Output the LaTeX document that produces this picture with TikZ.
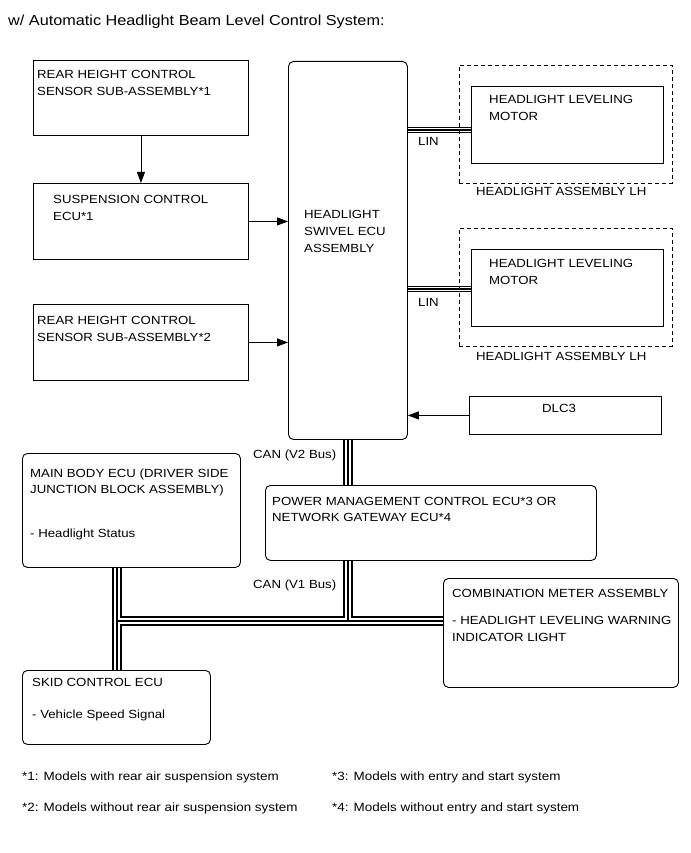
\documentclass[tikz,border=0pt]{standalone}
\usepackage{fontspec}
\setmainfont[FakeStretch=1.12]{Liberation Sans}
\usetikzlibrary{arrows.meta,calc}
\pgfdeclarelayer{bg}
\pgfsetlayers{bg,main}
\begin{document}
\begin{tikzpicture}[x=1pt,y=-1pt,
  box/.style={draw, line width=0.9pt, inner sep=0pt, anchor=north west},
  rbox/.style={box, rounded corners=5pt},
  dbox/.style={box, dash pattern=on 4pt off 3pt},
  txt/.style={anchor=base west, inner sep=0pt, font=\fontsize{11.8}{14}\selectfont},
  note/.style={anchor=base west, inner sep=0pt, font=\fontsize{12}{14}\selectfont},
  arr/.style={line width=0.9pt, -{Triangle[length=11pt,width=8pt]}}
]
\useasboundingbox (0,0) rectangle (690,853);

\node[anchor=base west, inner sep=0pt, font=\fontsize{14.5}{17}\selectfont] (title) at (8,26) {w/ Automatic Headlight Beam Level Control System:};

% boxes
\node[box, minimum width=215pt, minimum height=75pt] (rear1) at (33,60) {};
\node[box, minimum width=215pt, minimum height=76pt] (susp) at (33,183) {};
\node[box, minimum width=215pt, minimum height=76pt] (rear2) at (33,304) {};
\node[rbox, minimum width=119pt, minimum height=378pt] (swivel) at (288,61) {};
\node[dbox, minimum width=213pt, minimum height=118pt] (lh1) at (459,65) {};
\node[box, minimum width=192pt, minimum height=77pt] (mot1) at (471,86) {};
\node[dbox, minimum width=213pt, minimum height=118pt] (lh2) at (459,228) {};
\node[box, minimum width=192pt, minimum height=77pt] (mot2) at (471,249) {};
\node[box, minimum width=192pt, minimum height=38pt] (dlc) at (469,396) {};
\node[rbox, minimum width=218pt, minimum height=114pt] (main) at (22,453) {};
\node[rbox, minimum width=331pt, minimum height=75pt] (pm) at (265,485) {};
\node[rbox, minimum width=235pt, minimum height=109pt] (combo) at (443,578) {};
\node[rbox, minimum width=188pt, minimum height=74pt] (skid) at (22,670) {};

% texts
\node[txt] (t1a) at (37,79) {REAR HEIGHT CONTROL};
\node[txt] (t1b) at (37,96) {SENSOR SUB-ASSEMBLY*1};
\node[txt] (t2a) at (53,203) {SUSPENSION CONTROL};
\node[txt] (t2b) at (53,220) {ECU*1};
\node[txt] (t3a) at (37,324) {REAR HEIGHT CONTROL};
\node[txt] (t3b) at (37,341) {SENSOR SUB-ASSEMBLY*2};
\node[txt] (t4a) at (304,218) {HEADLIGHT};
\node[txt] (t4b) at (304,235) {SWIVEL ECU};
\node[txt] (t4c) at (304,252) {ASSEMBLY};
\node[txt] (t5a) at (489,104) {HEADLIGHT LEVELING};
\node[txt] (t5b) at (489,121) {MOTOR};
\node[txt] (t5c) at (476,196) {HEADLIGHT ASSEMBLY LH};
\node[txt] (t6a) at (489,267) {HEADLIGHT LEVELING};
\node[txt] (t6b) at (489,284) {MOTOR};
\node[txt] (t6c) at (476,360) {HEADLIGHT ASSEMBLY LH};
\node[txt] (lin1) at (418,146) {LIN};
\node[txt] (lin2) at (418,306) {LIN};
\node[txt, anchor=base] (t7) at (559,412) {DLC3};
\node[txt] (canv2) at (253,458) {CAN (V2 Bus)};
\node[txt] (canv1) at (253,588) {CAN (V1 Bus)};
\node[txt] (t8a) at (30,477) {MAIN BODY ECU (DRIVER SIDE};
\node[txt] (t8b) at (30,493) {JUNCTION BLOCK ASSEMBLY)};
\node[txt] (t8c) at (30,537) {- Headlight Status};
\node[txt] (t9a) at (272,505) {POWER MANAGEMENT CONTROL ECU*3 OR};
\node[txt] (t9b) at (272,521) {NETWORK GATEWAY ECU*4};
\node[txt] (t10a) at (452,597) {COMBINATION METER ASSEMBLY};
\node[txt] (t10b) at (452,624) {- HEADLIGHT LEVELING WARNING};
\node[txt] (t10c) at (452,641) {INDICATOR LIGHT};
\node[txt] (t11a) at (32,686) {SKID CONTROL ECU};
\node[txt] (t11b) at (32,718) {- Vehicle Speed Signal};

\node[note] (n1) at (22,780) {*1: Models with rear air suspension system};
\node[note] (n2) at (22,811) {*2: Models without rear air suspension system};
\node[note] (n3) at (332,780) {*3: Models with entry and start system};
\node[note] (n4) at (332,811) {*4: Models without entry and start system};

% arrows
\draw[arr] (rear1.south) -- (susp.north);
\draw[arr] (susp.east) -- (susp.east -| swivel.west);
\draw[arr] (rear2.east) -- (rear2.east -| swivel.west);
\draw[arr] (dlc.west) -- (dlc.west -| swivel.east);

% buses
\coordinate (ly1) at (0,130);
\coordinate (ly2) at (0,289);
\coordinate (cx) at (117,0);
\coordinate (hb) at (0,621);
\begin{pgfonlayer}{bg}
\foreach \w/\c in {6.5pt/black,4.5pt/white,2.5pt/black}{
  \draw[line width=\w, color=\c] (ly1 -| swivel.east) -- (ly1 -| mot1.west)
     (ly2 -| swivel.east) -- (ly2 -| mot2.west);
}
\foreach \w/\c in {9.5pt/black,6.5pt/white,2pt/black}{
  \draw[line width=\w, color=\c] (swivel.south) -- (swivel.south |- pm.north)
     (swivel.south |- pm.south) -- (swivel.south |- hb)
     (cx |- main.south) -- (cx |- skid.north)
     (cx |- hb) -- (hb -| combo.west);
}
\end{pgfonlayer}
\end{tikzpicture}
\end{document}
